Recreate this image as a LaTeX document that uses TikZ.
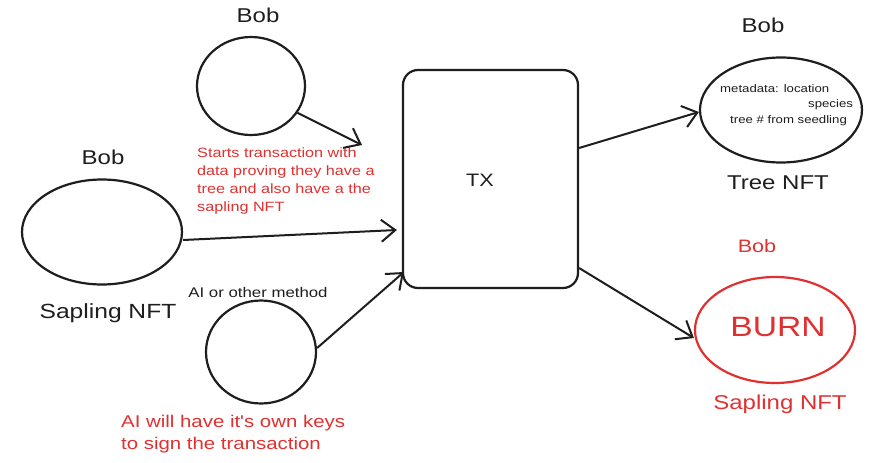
\documentclass[tikz,border=0pt]{standalone}
\usepackage{fontspec}
\newfontfamily\hand[FakeStretch=1.2]{Liberation Sans}
\usetikzlibrary{shapes.geometric,arrows.meta}
\definecolor{ink}{HTML}{1E1E1E}
\definecolor{exred}{HTML}{E03131}
\tikzset{
  oval/.style={ellipse,draw=ink,line width=2.2pt,inner sep=0pt},
  redoval/.style={oval,draw=exred},
  lbl/.style={inner sep=0pt,text=ink,font=\hand\fontsize{#1}{#1}\selectfont},
  redlbl/.style={lbl=#1,text=exred},
  conn/.style={draw=ink,line width=2pt,-{Straight Barb[length=14pt,width=22pt,line width=2pt]}},
  txbox/.style={draw=ink,line width=2.2pt,rounded corners=15pt,inner sep=0pt}
}
\begin{document}
\begin{tikzpicture}[x=1pt,y=-1pt]
\useasboundingbox[fill=white] (0,0) rectangle (892,463);
% nodes
\node[oval,minimum width=108pt,minimum height=98pt] (bobtop) at (251,86) {};
\node[lbl=20] (bobtoplbl) at (258,15) {Bob};
\node[oval,minimum width=160pt,minimum height=105pt] (bobleft) at (102,232) {};
\node[lbl=20] (bobleftlbl) at (103,157) {Bob};
\node[lbl=20.5] (saplbl) at (108,313) {Sapling NFT};
\node[oval,minimum width=110pt,minimum height=103pt] (ai) at (261,352) {};
\node[lbl=14] (ailbl) at (258,292) {AI or other method};
\node[txbox,minimum width=175pt,minimum height=218pt] (tx) at (490.5,179) {};
\node[lbl=18] (txlbl) at (480,180) {TX};
\node[oval,minimum width=162pt,minimum height=105pt] (tree) at (781,110) {};
\node[lbl=20] (bobtreelbl) at (763,25) {Bob};
\node[lbl=11,anchor=west] (meta1) at (720,89) {metadata: location};
\node[lbl=11,anchor=west] (meta2) at (808,105) {species};
\node[lbl=11,anchor=west] (meta3) at (730,121) {tree \# from seedling};
\node[lbl=20] (treelbl) at (778,183) {Tree NFT};
\node[redoval,minimum width=160pt,minimum height=106pt] (burn) at (775,330) {};
\node[redlbl=28] (burnlbl) at (778,327) {BURN};
\node[redlbl=18] (burnbob) at (757,246) {Bob};
\node[redlbl=20] (burnsap) at (780,404) {Sapling NFT};
\node[redlbl=13.5,anchor=north west,align=left,font=\hand\fontsize{13.5}{18}\selectfont] (note1) at (197,148) {Starts transaction with\\data proving they have a\\tree and also have a the\\sapling NFT};
\node[redlbl=17,anchor=north west,align=left,font=\hand\fontsize{17}{22}\selectfont] (note2) at (121,415) {AI will have it's own keys\\to sign the transaction};
\coordinate (topend) at (362,145);
% connectors
\draw[conn] (bobtop.-30) -- (topend);
\draw[conn] (bobleft.east |- 0,240) -- ([xshift=-5pt]tx.west |- 0,230);
\draw[conn] (ai.east |- 0,348) -- ([xshift=2pt]tx.south west |- 0,272);
\draw[conn] (tx.east |- 0,148) -- (tree.west |- 0,112);
\draw[conn] (tx.east |- 0,268) -- (burn.west |- 0,338);
\end{tikzpicture}
\end{document}
